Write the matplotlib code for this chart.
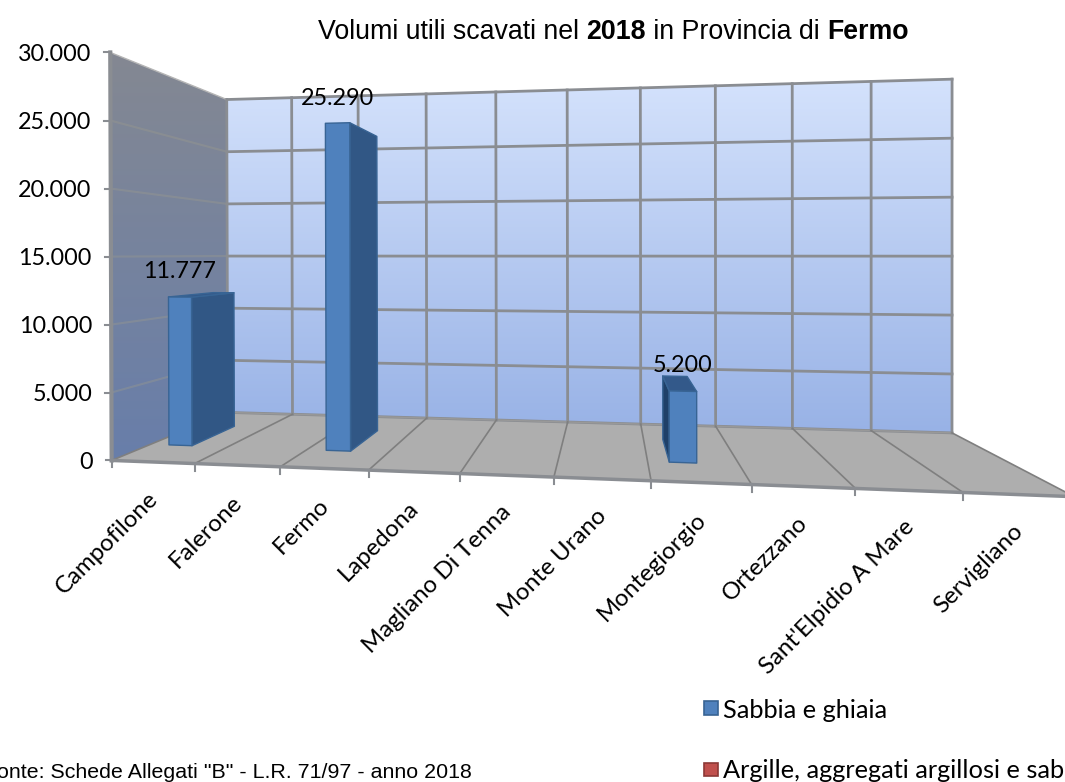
import numpy as np
import matplotlib
matplotlib.use('Agg')
import matplotlib.pyplot as plt
from matplotlib.patches import Polygon

# Dati
comuni = ['Campofilone', 'Falerone', 'Fermo', 'Lapedona', 'Magliano Di Tenna', 'Monte Urano',
          'Montegiorgio', 'Ortezzano', "Sant'Elpidio A Mare", 'Servigliano']
sabbia = [11777, 0, 25290, 0, 0, 0, 5200, 0, 0, 0]
y_ticks = [0, 5000, 10000, 15000, 20000, 25000, 30000]
y_labels = ['0', '5.000', '10.000', '15.000', '20.000', '25.000', '30.000']
legenda = ['Sabbia e ghiaia', 'Argille, aggregati argillosi e sabbie']
y_max = 30000

# Ancoraggi della prospettiva: (categoria, valore, profondita) -> pixel
ancore = [
    (0, 0, 1, 227, 412), (0, 30000, 1, 227, 100), (10, 0, 1, 952, 432), (10, 30000, 1, 952, 79),
    (0, 0, 0, 112, 460), (0, 30000, 0, 110, 52), (10, 0, 0, 1075, 497),
    (3, 0, 1, 427, 418), (6, 0, 1, 641, 425), (3, 0, 0, 369, 470), (6, 0, 0, 651, 482), (9, 0, 0, 962, 492),
]
A, b = [], []
for u, v, d, px, py in ancore:
    v = v / y_max
    A.append([u, v, d, 1, 0, 0, 0, 0, -px*u, -px*v, -px*d])
    A.append([0, 0, 0, 0, u, v, d, 1, -py*u, -py*v, -py*d])
    b += [px, py]
sol = np.linalg.lstsq(np.array(A, float), np.array(b, float), rcond=None)[0]
P = np.append(sol, 1).reshape(3, 4)


def proj(u, v, d):
    w = P @ np.array([u, v / y_max, d, 1.0])
    return w[0] / w[2], w[1] / w[2]


fig = plt.figure(figsize=(10.65, 7.82), dpi=100)
ax = fig.add_axes([0, 0, 1, 1])
ax.set_axis_off()


def gradiente(vertici, alto, basso, zorder=1):
    vertici = np.array(vertici)
    x0, x1 = vertici[:, 0].min(), vertici[:, 0].max()
    y0, y1 = vertici[:, 1].min(), vertici[:, 1].max()
    t = np.linspace(0, 1, 256)[:, None, None]
    img = (1 - t) * np.array(alto)[None, None, :] + t * np.array(basso)[None, None, :]
    im = ax.imshow(img / 255, extent=[x0, x1, y1, y0], aspect='auto', zorder=zorder)
    clip = Polygon(vertici, transform=ax.transData, facecolor='none', edgecolor='none')
    ax.add_patch(clip)
    im.set_clip_path(clip)


# Pareti e pavimento
n = len(comuni)
parete_sin = [proj(0, 0, 0), proj(0, y_max, 0), proj(0, y_max, 1), proj(0, 0, 1)]
parete_fondo = [proj(0, 0, 1), proj(0, y_max, 1), proj(n, y_max, 1), proj(n, 0, 1)]
pavimento = [proj(0, 0, 0), proj(0, 0, 1), proj(n, 0, 1), proj(n, 0, 0)]
gradiente(parete_sin, (132, 136, 146), (104, 126, 170))
gradiente(parete_fondo, (212, 226, 252), (152, 178, 230))
ax.add_patch(Polygon(pavimento, facecolor='#aeaeae', edgecolor='none', zorder=1))
ax.set_xlim(0, 1065)
ax.set_ylim(782, 0)

grigio = '#8a8d92'
for t in y_ticks:
    ax.plot(*zip(proj(0, t, 1), proj(n, t, 1)), color=grigio, lw=2, zorder=2)
    if 0 < t < y_max:
        ax.plot(*zip(proj(0, t, 0), proj(0, t, 1)), color='#9a9a8e', lw=1.5, alpha=0.4, zorder=2)
    x, y = proj(0, t, 0)
    ax.plot([x - 6, x], [y, y], color=grigio, lw=1.5, zorder=2)
    ax.text(x - 19, y + 2, y_labels[y_ticks.index(t)], ha='right', va='center', fontsize=16.8,
            family='Lato', color='black', zorder=6)
ax.plot(*zip(proj(0, y_max, 0), proj(0, y_max, 1)), color='#b5b5b5', lw=1, zorder=2)
ax.plot(*zip(proj(0, 0, 0), proj(0, y_max, 0)), color=grigio, lw=3, zorder=2)
ax.plot(*zip(proj(0, 0, 0), proj(n, 0, 0)), color=grigio, lw=2.5, zorder=3)
ax.plot(*zip(proj(0, 0, 1), proj(n, 0, 1)), color='#999999', lw=1, zorder=2)
for i in range(n + 1):
    ax.plot(*zip(proj(i, 0, 1), proj(i, y_max, 1)), color=grigio, lw=2, zorder=2)
    ax.plot(*zip(proj(i, 0, 0), proj(i, 0, 1)), color='#7f7f7f', lw=1.2, zorder=2)
    x, y = proj(i, 0, 0)
    ax.plot([x, x], [y, y + 7], color=grigio, lw=1.5, zorder=3)

# Barre
u0, u1 = 0.24, 0.54
d0, d1 = 0.28, 0.68
for i, val in enumerate(sabbia):
    if val > 0:
        fbl, fbr = proj(i + u0, 0, d0), proj(i + u1, 0, d0)
        ftl, ftr = proj(i + u0, val, d0), proj(i + u1, val, d0)
        bbl, bbr = proj(i + u0, 0, d1), proj(i + u1, 0, d1)
        btl, btr = proj(i + u0, val, d1), proj(i + u1, val, d1)
        stile = dict(edgecolor='#386494', lw=1, zorder=4, joinstyle='round')
        if bbl[0] < fbl[0]:
            ax.add_patch(Polygon([fbl, ftl, btl, bbl], facecolor='#1f4068', **stile))
        if bbr[0] > fbr[0]:
            ax.add_patch(Polygon([fbr, ftr, btr, bbr], facecolor='#315785', **stile))
        if btl[1] < ftl[1]:
            ax.add_patch(Polygon([ftl, ftr, btr, btl], facecolor='#33598a', **stile))
        ax.add_patch(Polygon([fbl, ftl, ftr, fbr], facecolor='#4f81bd', **stile))
        etichetta = f'{val:,}'.replace(',', '.')
        ax.text((ftl[0] + ftr[0]) / 2, ftl[1] - 25, etichetta, ha='center', va='center',
                fontsize=16.8, family='Lato', color='black', zorder=6)

# Etichette categorie
for i, nome in enumerate(comuni):
    x, y = proj(i + 0.5, 0, 0)
    ax.text(x - 6, y + 26, nome, rotation=45, rotation_mode='anchor', ha='right', va='top',
            fontsize=17.3, family='Lato', color='black', zorder=6)

# Titolo con parti in grassetto
parti = [('Volumi utili scavati nel ', 'normal'), ('2018', 'bold'), (' in Provincia di ', 'normal'), ('Fermo', 'bold')]
x_tit = 318
rend = fig.canvas.get_renderer()
for testo, peso in parti:
    tx = ax.text(x_tit, 32, testo.replace(' ', '\u00a0'), ha='left', va='center', fontsize=19.3,
                 family='Liberation Sans', weight=peso, color='black', zorder=6)
    x_tit = ax.transData.inverted().transform(tx.get_window_extent(rend))[1, 0]

# Legenda
ax.add_patch(Polygon([(704, 701), (718, 701), (718, 715), (704, 715)], facecolor='#4f81bd', edgecolor='#386494', lw=1.2, zorder=5))
ax.text(723, 710, legenda[0], ha='left', va='center', fontsize=18.3, family='Lato', color='black')
ax.add_patch(Polygon([(704, 763), (718, 763), (718, 776), (704, 776)], facecolor='#c0504d', edgecolor='#8c3836', lw=1.2, zorder=5))
ax.text(723, 770, legenda[1], ha='left', va='center', fontsize=18.3, family='Lato', color='black')

# Fonte
ax.text(472, 772, 'Fonte: Schede Allegati "B" - L.R. 71/97 - anno 2018', ha='right', va='center',
        fontsize=15.4, family='Liberation Sans', color='black')

fig.savefig('out.png', dpi=100)
